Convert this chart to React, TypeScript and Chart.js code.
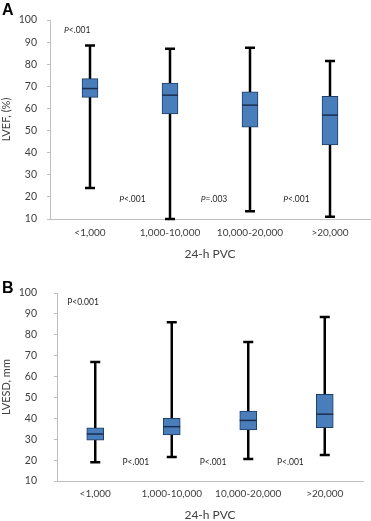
import React, { useEffect, useRef } from "react";
import { Chart, registerables } from "chart.js";

Chart.register(...registerables);

const categories = ["<1,000", "1,000-10,000", "10,000-20,000", ">20,000"];

const lvefMin = [24, 10, 13.5, 11];
const lvefQ1 = [65, 57.5, 51.5, 43.5];
const lvefMedian = [69, 66, 61.5, 57];
const lvefQ3 = [73.5, 71.5, 67.5, 65.5];
const lvefMax = [88.5, 87, 87.5, 81.5];

const lvesdMin = [19, 21.5, 20.5, 22.5];
const lvesdQ1 = [29.5, 32, 34.5, 35.5];
const lvesdMedian = [32.5, 36, 39, 42];
const lvesdQ3 = [35.5, 40, 43.5, 51.5];
const lvesdMax = [67, 86, 76.5, 88.5];

const yMin = 10;
const yMax = 100;
const yStep = 10;

const lvefPLabels = ["P<.001", "P<.001", "P=.003", "P<.001"];
const lvefPCat = [-0.16, 0.53, 1.55, 2.58];
const lvefPVal = [95.5, 19, 19, 19];

const lvesdPLabels = ["P<0.001", "P<.001", "P<.001", "P<.001"];
const lvesdPCat = [-0.16, 0.53, 1.54, 2.55];
const lvesdPVal = [95.8, 19.2, 19.2, 19.2];

const FONT = "Lato, 'Open Sans', sans-serif";

const boxPlugin = {
  id: "boxWhisker",
  beforeDatasetsDraw(chart: any, _args: any, o: any) {
    const { ctx } = chart;
    const x = chart.scales.x;
    const y = chart.scales.y;
    ctx.save();
    ctx.strokeStyle = "#000000";
    ctx.lineWidth = 2.5;
    ctx.lineCap = "butt";
    o.min.forEach((mn: number, i: number) => {
      const px = x.getPixelForValue(i);
      const yTop = y.getPixelForValue(o.max[i]);
      const yBot = y.getPixelForValue(mn);
      ctx.beginPath();
      ctx.moveTo(px, yTop);
      ctx.lineTo(px, yBot);
      ctx.stroke();
      ctx.beginPath();
      ctx.moveTo(px - o.cap / 2, yTop);
      ctx.lineTo(px + o.cap / 2, yTop);
      ctx.moveTo(px - o.cap / 2, yBot);
      ctx.lineTo(px + o.cap / 2, yBot);
      ctx.stroke();
    });
    ctx.restore();
  },
  afterDatasetsDraw(chart: any, _args: any, o: any) {
    const { ctx } = chart;
    const x = chart.scales.x;
    const y = chart.scales.y;
    ctx.save();
    ctx.strokeStyle = "#1a2f4f";
    ctx.lineWidth = 1.5;
    o.median.forEach((m: number, i: number) => {
      const px = x.getPixelForValue(i);
      const py = y.getPixelForValue(m);
      ctx.beginPath();
      ctx.moveTo(px - o.boxWidth / 2, py);
      ctx.lineTo(px + o.boxWidth / 2, py);
      ctx.stroke();
    });
    // p-value annotations
    ctx.fillStyle = "#262626";
    ctx.textBaseline = "middle";
    ctx.textAlign = "left";
    o.pLabels.forEach((t: string, i: number) => {
      const cx = x.getPixelForValue(o.pCat[i]);
      const cy = y.getPixelForValue(o.pVal[i]);
      const first = t.slice(0, 1);
      const rest = t.slice(1);
      const fP = (o.italicP ? "italic " : "") + "8.5px " + FONT;
      const fR = "8.5px " + FONT;
      ctx.font = fP;
      const w1 = ctx.measureText(first).width;
      ctx.font = fR;
      const w2 = ctx.measureText(rest).width;
      const sx = cx - (w1 + w2) / 2;
      ctx.font = fP;
      ctx.fillText(first, sx, cy);
      ctx.font = fR;
      ctx.fillText(rest, sx + w1, cy);
    });
    // panel letter
    ctx.fillStyle = "#000000";
    ctx.font = "bold 16px 'Liberation Sans', Arial, sans-serif";
    ctx.textBaseline = "alphabetic";
    ctx.fillText(o.panel, 2, o.panelY);
    ctx.restore();
  },
};

function makeConfig(p: any): any {
  return {
    type: "bar",
    data: {
      labels: categories,
      datasets: [
        {
          data: p.q1.map((v: number, i: number) => [v, p.q3[i]]),
          backgroundColor: "#4a7ebb",
          borderColor: "#1f3d66",
          borderWidth: 1,
          borderSkipped: false,
          barThickness: p.boxWidth,
        },
      ],
    },
    plugins: [boxPlugin],
    options: {
      responsive: false,
      animation: false,
      layout: { padding: { top: p.padTop, left: 0, right: p.padRight, bottom: 0 } },
      plugins: {
        legend: { display: false },
        tooltip: { enabled: false },
        boxWhisker: {
          min: p.min,
          max: p.max,
          median: p.median,
          cap: 10,
          boxWidth: p.boxWidth,
          pLabels: p.pLabels,
          pCat: p.pCat,
          pVal: p.pVal,
          italicP: p.italicP,
          panel: p.panel,
          panelY: p.panelY,
        },
      },
      scales: {
        x: {
          grid: { display: false, drawTicks: false },
          border: { display: true, color: "#bfbfbf", width: 1 },
          ticks: { color: "#404040", font: { family: FONT, size: 10 }, padding: p.xPad, maxRotation: 0, autoSkip: false },
          title: {
            display: true,
            text: "24-h PVC",
            color: "#404040",
            font: { family: FONT, size: 12, lineHeight: 1 },
            padding: { top: 0, bottom: 0 },
          },
          afterFit: (s: any) => {
            s.height = p.xHeight;
          },
        },
        y: {
          min: yMin,
          max: yMax,
          ticks: { stepSize: yStep, color: "#404040", font: { family: FONT, size: 10.5 }, padding: p.yPad },
          grid: { drawOnChartArea: false, drawTicks: true, tickLength: 3, color: "#bfbfbf" },
          border: { display: true, color: "#bfbfbf", width: 1 },
          title: {
            display: true,
            text: p.yTitle,
            color: "#404040",
            font: { family: FONT, size: 11, lineHeight: 1.2 },
            padding: { top: 0, bottom: 0 },
          },
          afterFit: (s: any) => {
            s.width = p.yWidth;
          },
        },
      },
    },
  };
}

function BoxChart(props: any) {
  const ref = useRef<HTMLCanvasElement>(null);
  useEffect(() => {
    if (!ref.current) return;
    const chart = new Chart(ref.current, makeConfig(props.cfg));
    return () => chart.destroy();
  }, []);
  return (
    <canvas
      ref={ref}
      width={371}
      height={props.height}
      style={{ display: "block", width: 371, height: props.height }}
    />
  );
}

const cfgA = {
  q1: lvefQ1,
  q3: lvefQ3,
  min: lvefMin,
  max: lvefMax,
  median: lvefMedian,
  pLabels: lvefPLabels,
  pCat: lvefPCat,
  pVal: lvefPVal,
  italicP: true,
  panel: "A",
  panelY: 15,
  yTitle: "LVEF, (%)",
  boxWidth: 16,
  padTop: 20,
  padRight: 1,
  xPad: 8,
  xHeight: 41,
  yPad: 10,
  yWidth: 50,
};

const cfgB = {
  q1: lvesdQ1,
  q3: lvesdQ3,
  min: lvesdMin,
  max: lvesdMax,
  median: lvesdMedian,
  pLabels: lvesdPLabels,
  pCat: lvesdPCat,
  pVal: lvesdPVal,
  italicP: false,
  panel: "B",
  panelY: 33,
  yTitle: "LVESD, mm",
  boxWidth: 17,
  padTop: 33,
  padRight: 8,
  xPad: 7,
  xHeight: 40,
  yPad: 17,
  yWidth: 57,
};

export default function App() {
  return (
    <div style={{ position: "absolute", left: 0, top: 0, width: 371, height: 521, background: "#fff" }}>
      <BoxChart cfg={cfgA} height={260} />
      <BoxChart cfg={cfgB} height={261} />
    </div>
  );
}
